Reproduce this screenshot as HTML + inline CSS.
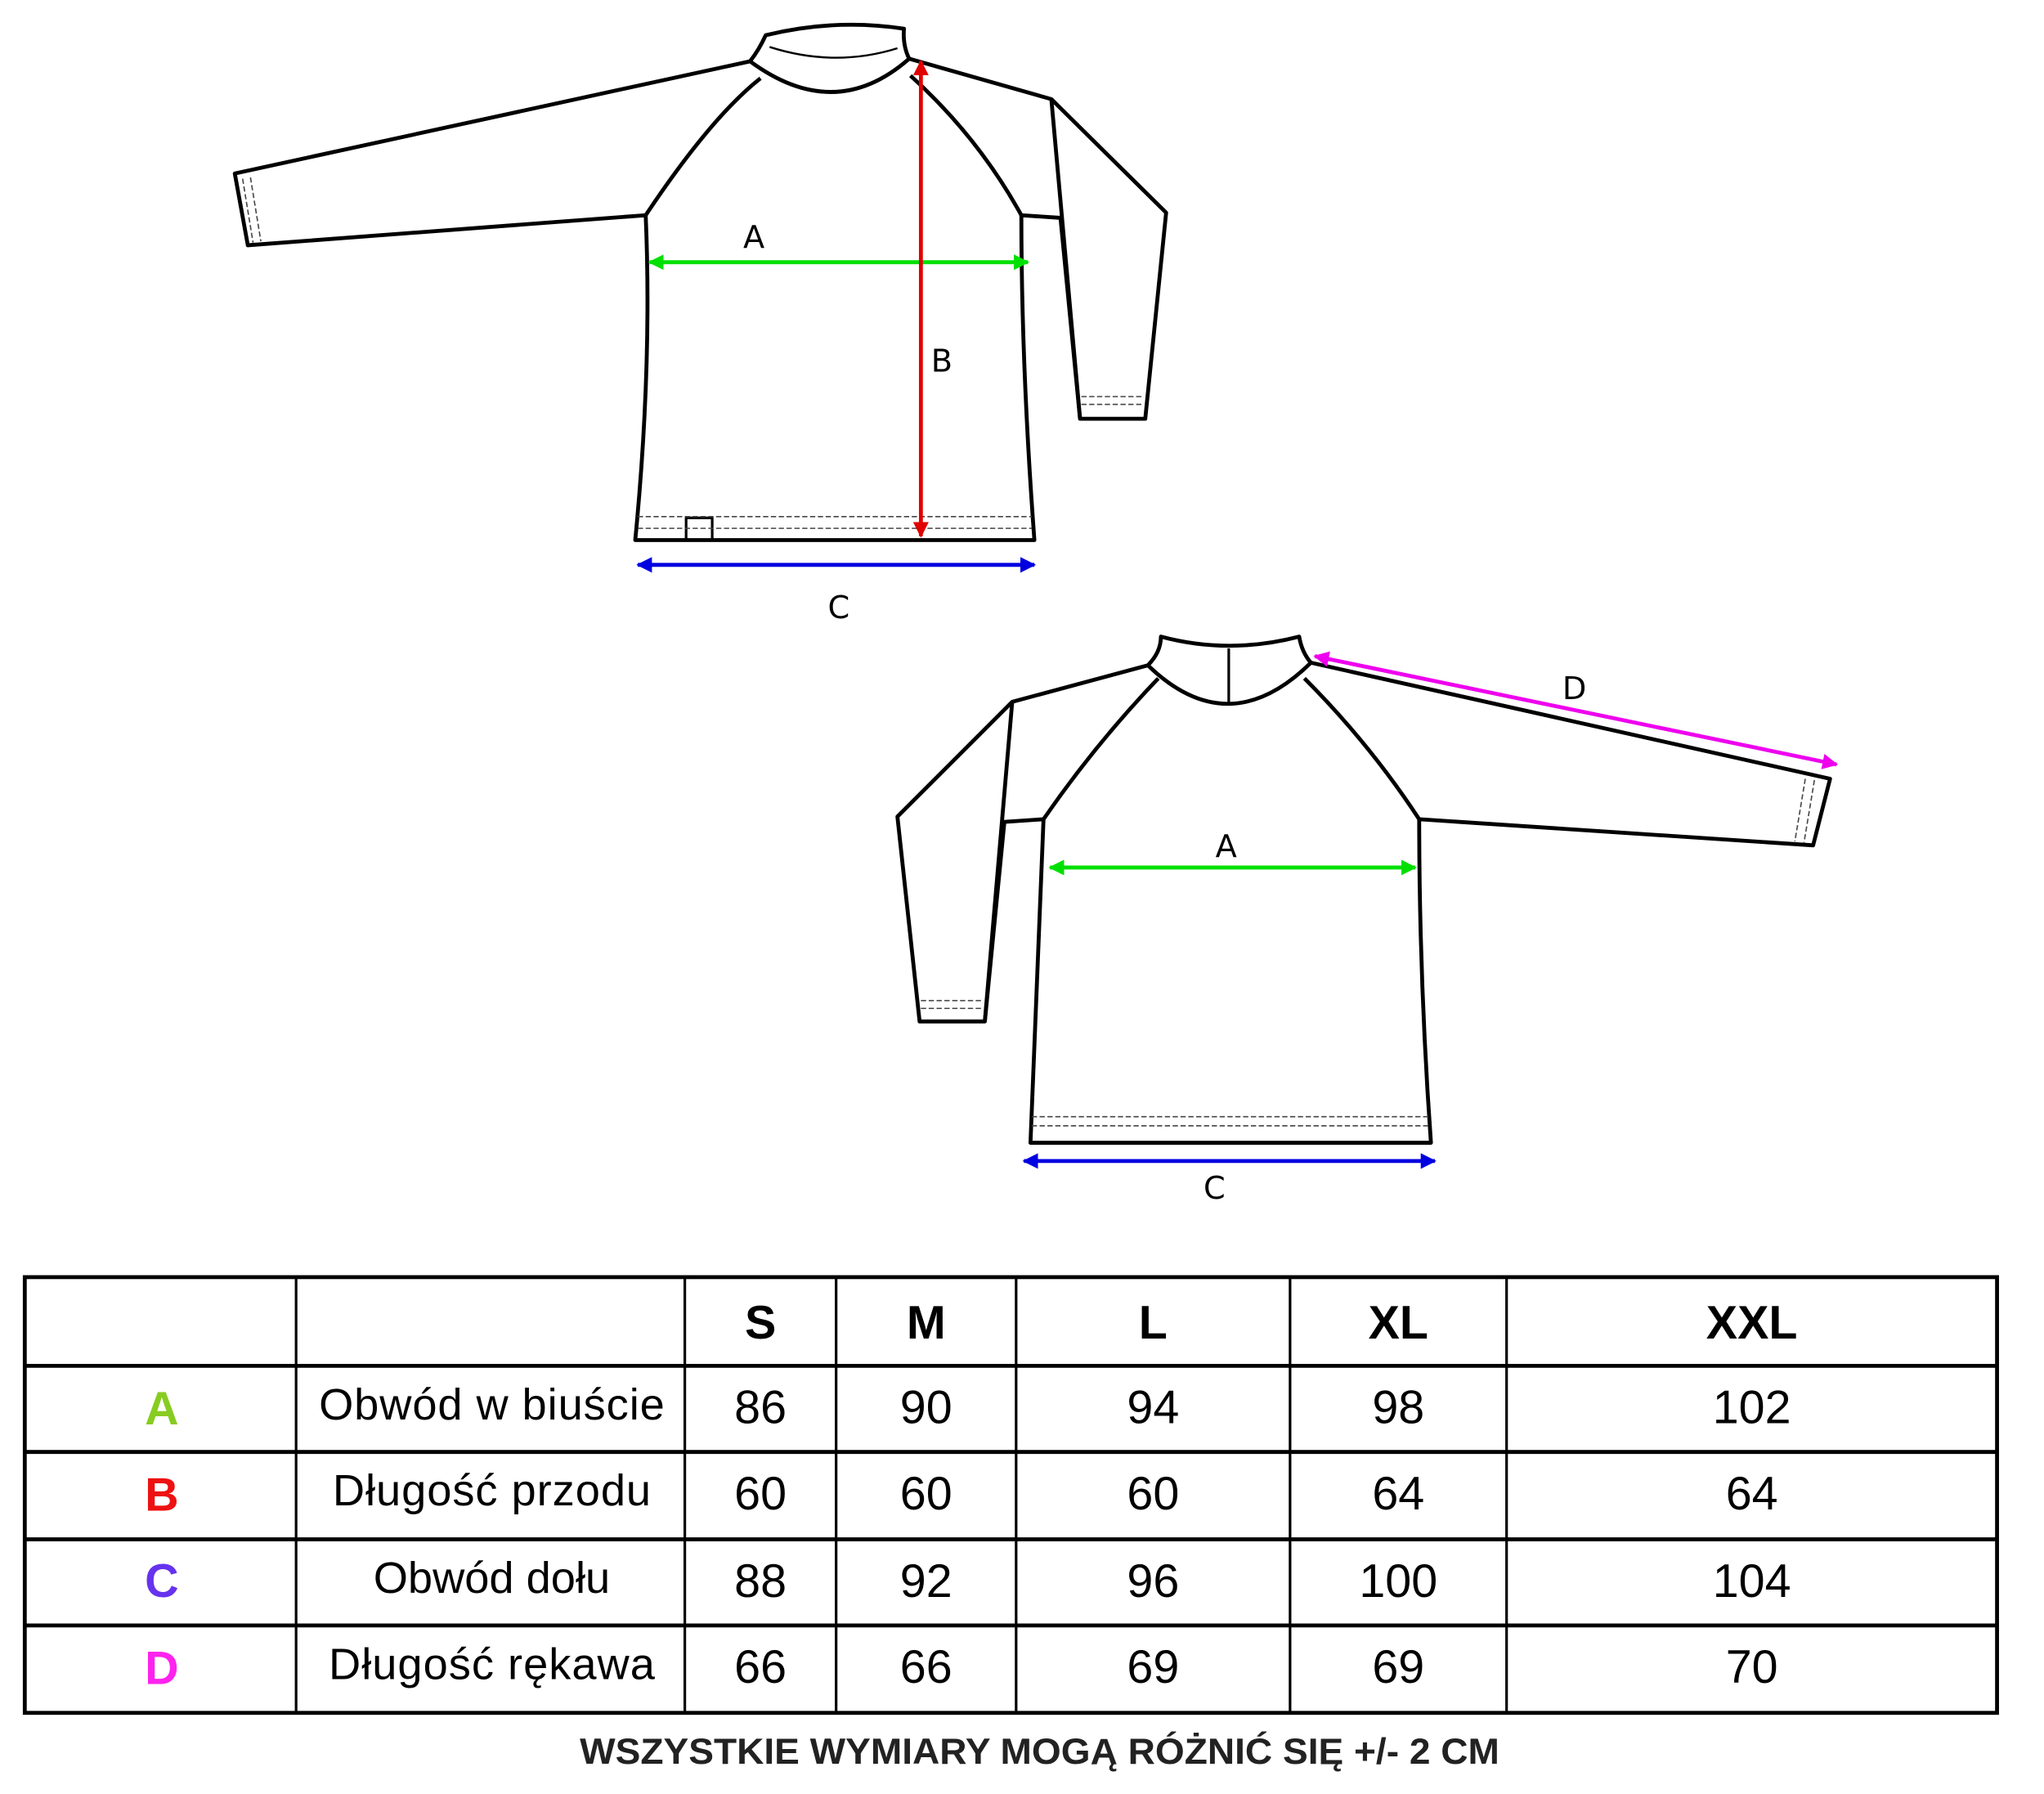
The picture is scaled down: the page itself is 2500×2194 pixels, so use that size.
<!DOCTYPE html>
<html><head><meta charset="utf-8"><style>html,body{margin:0;padding:0;background:#fff}svg{display:block}</style></head>
<body>
<svg width="2500" height="2194" viewBox="0 0 1567 1375.2" preserveAspectRatio="none" xmlns="http://www.w3.org/2000/svg" font-family="Liberation Sans, DejaVu Sans, sans-serif">
<defs>
<marker id="ag" viewBox="0 0 10 10" refX="9" refY="5" markerWidth="4" markerHeight="4" orient="auto-start-reverse"><path d="M0,0L10,5L0,10z" fill="#00e000"/></marker>
<marker id="ar" viewBox="0 0 10 10" refX="9" refY="5" markerWidth="4" markerHeight="4" orient="auto-start-reverse"><path d="M0,0L10,5L0,10z" fill="#e00000"/></marker>
<marker id="ab" viewBox="0 0 10 10" refX="9" refY="5" markerWidth="4" markerHeight="4" orient="auto-start-reverse"><path d="M0,0L10,5L0,10z" fill="#0000e0"/></marker>
<marker id="am" viewBox="0 0 10 10" refX="9" refY="5" markerWidth="4" markerHeight="4" orient="auto-start-reverse"><path d="M0,0L10,5L0,10z" fill="#ee00ee"/></marker>
</defs>
<g fill="none" stroke="#000" stroke-width="3" stroke-linejoin="round">
<path d="M575,47 L180,133 L190,188 L495,165 Q500,280 487,414 L793,414 Q783,280 783,165 L813,167 L828,321 L878,321 L894,163 L806,76 L697,45"/>
<path d="M806,76 L828,321"/>
<path d="M575,47 Q582,38 587,27 Q640,14 693,22 Q692,35 697,45 Q640,95 575,47 Z"/>
<path d="M590,36 Q640,52 688,37" stroke-width="1.5"/>
<path d="M495,165 Q545,90 583,60"/>
<path d="M698,58 Q750,105 783,165"/>
<rect x="526" y="397" width="20" height="17" stroke-width="2"/>
<path d="M880,510 L776,538 L688,626 L705,783 L755,783 L770,630 L800,628 Q795,750 790,876 L1097,876 Q1088,750 1088,628 L1390,648 L1403,597 L1005,508"/>
<path d="M776,538 L755,783"/>
<path d="M880,510 Q890,500 890,488 Q942,502 996,488 Q998,500 1005,508 Q942,570 880,510 Z"/>
<path d="M942,497 L942,540" stroke-width="2"/>
<path d="M800,628 Q840,570 888,520"/>
<path d="M1000,520 Q1050,570 1088,628"/>
</g>
<g fill="none" stroke="#444" stroke-width="1" stroke-dasharray="4,2">
<path d="M186,137 L194,186 M192,136 L200,185"/>
<path d="M829,304 L876,304 M829,310 L876,310"/>
<path d="M489,396 L791,396 M489,405 L791,405"/>
<path d="M706,767 L754,767 M706,773 L754,773"/>
<path d="M791,856 L1095,856 M791,863 L1095,863"/>
<path d="M1384,597 L1376,645 M1391,598 L1383,646"/>
</g>
<g stroke-width="3">
<line x1="498" y1="201" x2="788" y2="201" stroke="#00e000" marker-start="url(#ag)" marker-end="url(#ag)"/>
<line x1="706" y1="47" x2="706" y2="411" stroke="#e00000" marker-start="url(#ar)" marker-end="url(#ar)"/>
<line x1="489" y1="433" x2="793" y2="433" stroke="#0000e0" marker-start="url(#ab)" marker-end="url(#ab)"/>
<line x1="1008" y1="503" x2="1408" y2="586" stroke="#ee00ee" marker-start="url(#am)" marker-end="url(#am)"/>
<line x1="805" y1="665" x2="1085" y2="665" stroke="#00e000" marker-start="url(#ag)" marker-end="url(#ag)"/>
<line x1="785" y1="890" x2="1100" y2="890" stroke="#0000e0" marker-start="url(#ab)" marker-end="url(#ab)"/>
</g>
<g font-family="DejaVu Sans, sans-serif" font-size="24" text-anchor="middle">
<text x="578" y="190">A</text><text x="722" y="285">B</text><text x="643" y="474">C</text>
<text x="1207" y="536">D</text><text x="940" y="657">A</text><text x="931" y="919">C</text>
</g>
<g stroke="#000">
<rect x="19" y="979" width="1512" height="334" fill="none" stroke-width="3"/>
<g stroke-width="3"><line x1="19" y1="1047" x2="1531" y2="1047"/><line x1="19" y1="1113" x2="1531" y2="1113"/><line x1="19" y1="1180" x2="1531" y2="1180"/><line x1="19" y1="1246" x2="1531" y2="1246"/></g>
<g stroke-width="2"><line x1="227" y1="979" x2="227" y2="1313"/><line x1="525" y1="979" x2="525" y2="1313"/><line x1="641" y1="979" x2="641" y2="1313"/><line x1="779" y1="979" x2="779" y2="1313"/><line x1="989" y1="979" x2="989" y2="1313"/><line x1="1155" y1="979" x2="1155" y2="1313"/></g>
</g>
<g text-anchor="middle" font-size="36">
<g font-weight="bold"><text x="583" y="1026">S</text><text x="710" y="1026">M</text><text x="884" y="1026">L</text><text x="1072" y="1026">XL</text><text x="1343" y="1026">XXL</text>
<text x="124" y="1092" fill="#88cc22">A</text><text x="124" y="1158" fill="#ee1111">B</text><text x="124" y="1224" fill="#6633ee">C</text><text x="124" y="1291" fill="#ff22ee">D</text></g>
<g font-size="34"><text x="377" y="1088" textLength="265">Obwód w biuście</text><text x="377" y="1154" textLength="244">Długość przodu</text><text x="377" y="1221">Obwód dołu</text><text x="377" y="1287" textLength="250">Długość rękawa</text></g>
<text x="583" y="1091">86</text><text x="710" y="1091">90</text><text x="884" y="1091">94</text><text x="1072" y="1091">98</text><text x="1343" y="1091">102</text>
<text x="583" y="1157">60</text><text x="710" y="1157">60</text><text x="884" y="1157">60</text><text x="1072" y="1157">64</text><text x="1343" y="1157">64</text>
<text x="583" y="1224">88</text><text x="710" y="1224">92</text><text x="884" y="1224">96</text><text x="1072" y="1224">100</text><text x="1343" y="1224">104</text>
<text x="583" y="1290">66</text><text x="710" y="1290">66</text><text x="884" y="1290">69</text><text x="1072" y="1290">69</text><text x="1343" y="1290">70</text>
</g>
<text x="797" y="1352" text-anchor="middle" font-size="28" font-weight="bold" fill="#222" textLength="705" lengthAdjust="spacingAndGlyphs">WSZYSTKIE WYMIARY MOGĄ RÓŻNIĆ SIĘ +/- 2 CM</text>
</svg>
</body></html>
